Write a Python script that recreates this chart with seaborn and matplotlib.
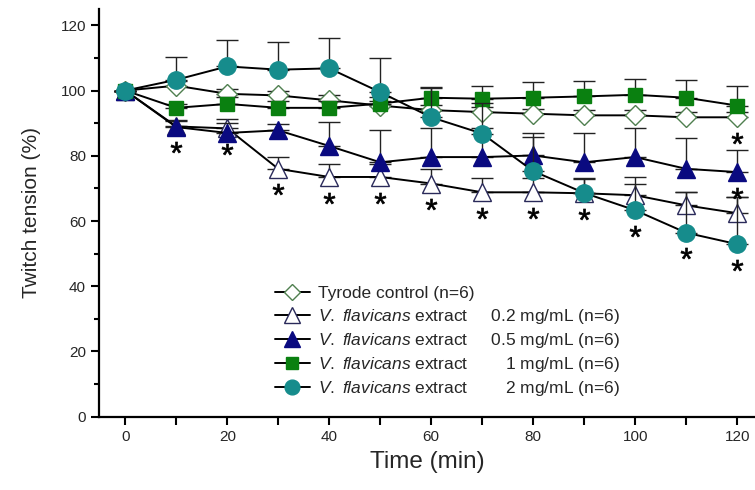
import numpy as np
import pandas as pd
import seaborn as sns
import matplotlib
matplotlib.use('Agg')
import matplotlib.pyplot as plt

## data (mean, upper SE)
times = [0, 10, 20, 30, 40, 50, 60, 70, 80, 90, 100, 110, 120]

control = [100, 101.5, 99.0, 98.5, 97.0, 95.4, 94.0, 93.4, 92.9, 92.4, 92.4, 91.8, 91.8]
control_se = [0, 1.5, 1.5, 1.5, 1.5, 1.5, 1.5, 1.5, 1.5, 1.5, 1.5, 1.5, 1.5]

low = [100, 89.0, 88.4, 76.0, 73.5, 73.5, 71.5, 68.8, 68.8, 68.5, 67.9, 64.8, 62.4]
low_se = [0, 2.0, 3.0, 3.6, 3.9, 4.0, 4.5, 4.5, 4.5, 4.5, 5.6, 4.2, 5.0]

mid = [100, 88.8, 87.0, 87.8, 83.0, 78.0, 79.6, 79.6, 80.1, 78.0, 79.6, 76.0, 75.0]
mid_se = [0, 2.0, 3.0, 2.0, 7.3, 10.0, 8.8, 8.8, 7.0, 9.0, 8.8, 9.5, 6.7]

high = [100, 94.7, 95.9, 94.7, 94.7, 96.0, 97.8, 97.5, 97.8, 98.2, 98.7, 97.8, 95.4]
high_se = [0, 1.2, 2.0, 2.0, 2.0, 2.0, 3.2, 4.0, 4.7, 4.8, 4.9, 5.5, 6.1]

top = [100, 103.3, 107.4, 106.4, 106.8, 99.5, 91.8, 86.8, 75.3, 68.6, 63.3, 56.4, 52.9]
top_se = [0, 7.0, 8.2, 8.6, 9.2, 10.5, 9.0, 9.5, 10.4, 4.5, 8.2, 12.6, 14.5]

vf = r'$\it{V.}$ $\it{flavicans}$'
labels = [
    'Tyrode control (n=6)',
    vf + ' extract     0.2 mg/mL (n=6)',
    vf + ' extract     0.5 mg/mL (n=6)',
    vf + ' extract        1 mg/mL (n=6)',
    vf + ' extract        2 mg/mL (n=6)',
]

# significance stars: series index -> time points
sig = {1: [10, 20, 30, 40, 50, 60, 70, 80, 90], 4: [100, 110, 120], 2: [120], 0: [120]}

series = [control, low, mid, high, top]
errors = [control_se, low_se, mid_se, high_se, top_se]

## styles
markers = ['D', '^', '^', 's', 'o']
msizes = [10, 13, 13, 10, 12.5]
faces = ['white', 'white', '#0a0a80', '#0a8010', '#168c8c']
edges = ['#4f7f4f', '#2a2a5a', '#0a0a80', '#0a8010', '#168c8c']

sns.set_style('ticks')
plt.rcParams['font.family'] = ['Liberation Sans', 'DejaVu Sans']
plt.rcParams['mathtext.fontset'] = 'custom'
plt.rcParams['mathtext.it'] = 'Liberation Sans:italic'
plt.rcParams['mathtext.rm'] = 'Liberation Sans'

fig = plt.figure(figsize=(7.55, 4.9), dpi=100)
ax = fig.add_axes([0.1315, 0.1496, 0.8685, 0.832])

for i, vals in enumerate(series):
    ax.errorbar(times, vals, yerr=[np.zeros(len(vals)), errors[i]], fmt='none',
                ecolor='#222222', elinewidth=1, capsize=8, capthick=1, zorder=2 + i)
    sns.lineplot(x=times, y=vals, ax=ax, color='black', lw=1.4, marker=markers[i],
                 markersize=msizes[i], markerfacecolor=faces[i], markeredgecolor=edges[i],
                 markeredgewidth=1, label=labels[i], zorder=3 + i)

# stars about 6 % below the flagged point
star_x, star_y = [], []
for idx, ts in sig.items():
    for t in ts:
        star_x.append(t)
        star_y.append(series[idx][times.index(t)] - 6.3)
sns.scatterplot(x=star_x, y=star_y, ax=ax, marker='$*$', s=65, color='black',
                linewidth=0.5, edgecolor='black', zorder=10)

ax.set_xlim(-5.1, 123.5)
ax.set_ylim(0, 125)
ax.set_xticks(range(0, 121, 20))
ax.set_xticks(range(0, 121, 10), minor=True)
ax.set_yticks(range(0, 121, 20))
ax.set_yticks(range(10, 121, 20), minor=True)
ax.tick_params(axis='both', which='major', labelsize=11, width=1.5, length=6, color='black')
ax.tick_params(axis='x', which='minor', width=1.5, length=6, color='black')
ax.tick_params(axis='y', which='minor', width=1.5, length=3.5, color='black')
for s in ['top', 'right']:
    ax.spines[s].set_visible(False)
for s in ['left', 'bottom']:
    ax.spines[s].set_linewidth(1.6)
    ax.spines[s].set_color('black')

ax.set_xlabel('Time (min)', fontsize=17.5, labelpad=5)
ax.set_ylabel('Twitch tension (%)', fontsize=15, labelpad=14)

handles, labs = ax.get_legend_handles_labels()
ax.legend(handles, labs, loc='upper left', bbox_to_anchor=(0.268, 0.32), frameon=False,
          fontsize=12.5, handlelength=2.0, handletextpad=0.5, labelspacing=0.3,
          borderpad=0, borderaxespad=0, markerscale=0.85)

fig.savefig('out.png', dpi=100)
plt.close(fig)
